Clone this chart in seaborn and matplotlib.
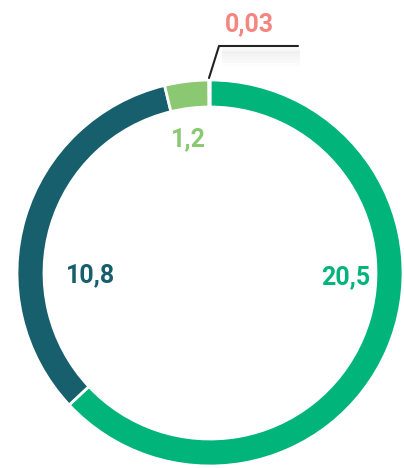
import matplotlib
matplotlib.use("Agg")
import matplotlib.pyplot as plt
import seaborn as sns
import numpy as np

# data
categories = ["A", "B", "C", "D"]
values = [20.5, 10.8, 1.2, 0.03]
labels = ["20,5", "10,8", "1,2", "0,03"]
colors = ["#00b47a", "#175f6c", "#8ac872", "#f4857f"]

sns.set_theme(style="white")
plt.rcParams['font.family'] = ['Roboto', 'DejaVu Sans']

W, H = 404, 468
fig = plt.figure(figsize=(W / 100, H / 100), dpi=100)
ax = fig.add_axes([0, 0, 1, 1])
cx, cy, R = 210, H - 273, 193

wedges, _ = ax.pie(values, colors=colors, startangle=90, counterclock=False,
                   center=(cx, cy), radius=R, frame=True,
                   wedgeprops=dict(width=27, edgecolor="white", linewidth=2))
ax.set_xlim(0, W)
ax.set_ylim(0, H)
ax.set_aspect("auto")
ax.axis("off")

fs = 18
ax.text(cx + 136, cy - 4, labels[0], color=colors[0], fontsize=fs, fontweight="bold",
        ha="center", va="center")
ax.text(cx - 120, cy - 2, labels[1], color=colors[1], fontsize=fs, fontweight="bold",
        ha="center", va="center")
ax.text(cx - 22, cy + 134, labels[2], color=colors[2], fontsize=fs, fontweight="bold",
        ha="center", va="center")

# leader line for tiny slice
p0 = (209, H - 78)
p1 = (219, H - 46)
p2 = (298, H - 46)
# faint shadow
for i, a in enumerate([0.06, 0.05, 0.04, 0.03, 0.02]):
    ax.plot([222, 300], [H - 51 - 3 * i, H - 51 - 3 * i], color="grey", alpha=a, lw=4,
            solid_capstyle="butt")
ax.plot([p0[0], p1[0], p2[0]], [p0[1], p1[1], p2[1]], color="#222222", lw=1.5)
ax.text(249.5, H - 24, labels[3], color=colors[3], fontsize=fs, fontweight="bold",
        ha="center", va="center")

fig.savefig("out.png", dpi=100)
